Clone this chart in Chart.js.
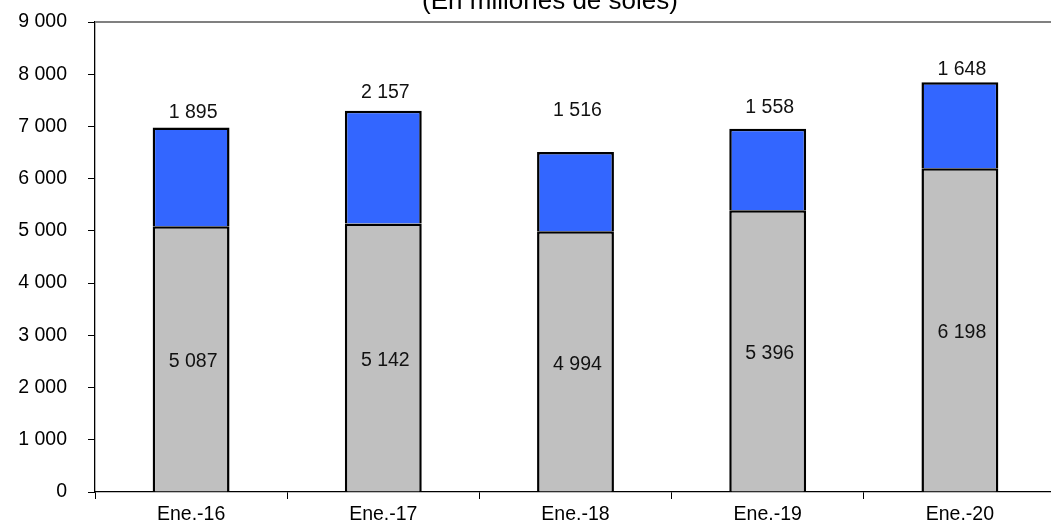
<!DOCTYPE html>
<html>
<head>
<meta charset="utf-8">
<script src="https://cdn.jsdelivr.net/npm/chart.js@4/dist/chart.umd.min.js"></script>
<style>
  html, body { margin: 0; padding: 0; background: #fff; overflow: hidden; }
  #wrap { width: 1056px; height: 525px; }
</style>
</head>
<body>
<div id="wrap"><canvas id="c" width="1056" height="525"></canvas></div>
<script>
const categories = ['Ene.-16', 'Ene.-17', 'Ene.-18', 'Ene.-19', 'Ene.-20'];
const grayValues = [5087, 5142, 4994, 5396, 6198];
const blueValues = [1895, 2157, 1516, 1558, 1648];
const yTicks = [0, 1000, 2000, 3000, 4000, 5000, 6000, 7000, 8000, 9000];
const titleText = '(En millones de soles)';

// label placement (pixels above the top of each blue segment)
const blueLabelLift = [15, 18, 41, 21, 13];

const FONT = '"Liberation Sans", Arial, sans-serif';
const fmt = v => String(v).replace(/\B(?=(\d{3})+(?!\d))/g, ' ');

const decor = {
  id: 'decor',
  beforeDatasetsDraw(chart) {
    const { ctx, chartArea } = chart;
    ctx.save();
    ctx.strokeStyle = '#808080';
    ctx.lineWidth = 2;
    ctx.beginPath();
    ctx.moveTo(chartArea.left, chartArea.top);
    ctx.lineTo(chartArea.right, chartArea.top);
    ctx.stroke();
    ctx.restore();
  },
  afterDatasetsDraw(chart) {
    const { ctx } = chart;
    ctx.save();
    ctx.fillStyle = '#111';
    ctx.font = '19.5px ' + FONT;
    ctx.textAlign = 'center';
    ctx.textBaseline = 'middle';
    const m0 = chart.getDatasetMeta(0).data;
    const m1 = chart.getDatasetMeta(1).data;
    m0.forEach((bar, i) => {
      const y = (bar.y + bar.base) / 2 + 3;
      ctx.fillText(fmt(grayValues[i]), bar.x + 2, y);
    });
    m1.forEach((bar, i) => {
      ctx.fillText(fmt(blueValues[i]), bar.x + 2, bar.y - blueLabelLift[i]);
    });
    // title (partially cut at top)
    ctx.font = '26px ' + FONT;
    ctx.textBaseline = 'alphabetic';
    ctx.fillStyle = '#000';
    ctx.fillText(titleText, 550, 9);
    ctx.restore();
  }
};

new Chart(document.getElementById('c'), {
  type: 'bar',
  data: {
    labels: categories,
    datasets: [
      {
        data: grayValues,
        backgroundColor: '#C0C0C0',
        borderColor: '#000',
        borderWidth: 2.5,
        categoryPercentage: 1,
        barPercentage: 0.4
      },
      {
        data: blueValues,
        backgroundColor: '#3366FF',
        borderColor: '#000',
        borderWidth: 2.5,
        categoryPercentage: 1,
        barPercentage: 0.4
      }
    ]
  },
  options: {
    responsive: false,
    animation: false,
    layout: { padding: { top: 22, left: 0, right: 0, bottom: 0 } },
    plugins: { legend: { display: false }, tooltip: { enabled: false }, title: { display: false } },
    scales: {
      x: {
        stacked: true,
        offset: true,
        grid: { display: true, drawOnChartArea: false, drawTicks: true, tickLength: 7, color: '#000', offset: true },
        border: { display: true, color: '#000', width: 1.3 },
        ticks: { color: '#000', font: { family: FONT, size: 19.5 }, padding: 4, maxRotation: 0 },
        afterFit(s) { s.height = 33; s.paddingLeft = 0; s.paddingRight = 0; }
      },
      y: {
        stacked: true,
        min: yTicks[0],
        max: yTicks[yTicks.length - 1],
        afterBuildTicks(s) { s.ticks = yTicks.map(v => ({ value: v })); },
        grid: { display: true, drawOnChartArea: false, drawTicks: true, tickLength: 7, color: '#000' },
        border: { display: true, color: '#000', width: 1.3 },
        ticks: { color: '#000', font: { family: FONT, size: 19.5 }, padding: 21, callback: v => fmt(v) },
        afterFit(s) { s.width = 95; s.paddingTop = 0; s.paddingBottom = 0; }
      }
    }
  },
  plugins: [decor]
});
</script>
</body>
</html>
